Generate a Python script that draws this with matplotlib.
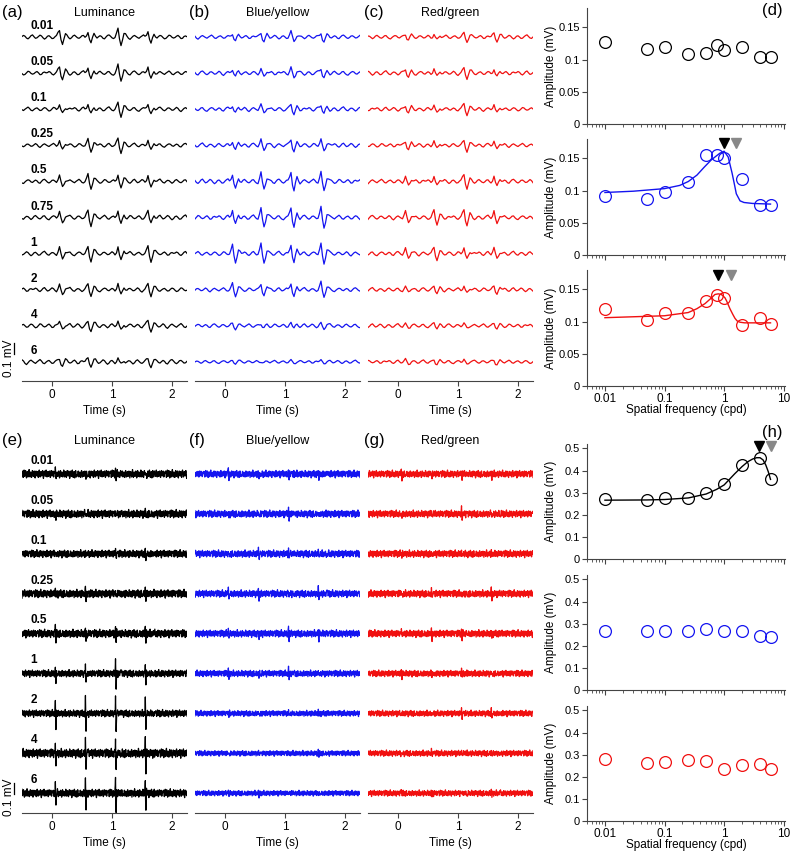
import numpy as np
import matplotlib
matplotlib.use('Agg')
import matplotlib.pyplot as plt
from matplotlib.ticker import LogLocator, NullFormatter

plt.rcParams.update({
    'font.family': ['Liberation Sans', 'DejaVu Sans'],
    'font.size': 8.5,
    'axes.linewidth': 0.8,
    'xtick.major.size': 3.5,
    'ytick.major.size': 3.5,
    'xtick.minor.size': 2,
    'xtick.major.width': 0.8,
    'ytick.major.width': 0.8,
    'xtick.minor.width': 0.6,
})

# ---- data -------------------------------------------------------------
sf_top = [0.01, 0.05, 0.1, 0.25, 0.5, 0.75, 1, 2, 4, 6]
sf_bottom = [0.01, 0.05, 0.1, 0.25, 0.5, 1, 2, 4, 6]
labels_top = ['0.01', '0.05', '0.1', '0.25', '0.5', '0.75', '1', '2', '4', '6']
labels_bottom = ['0.01', '0.05', '0.1', '0.25', '0.5', '1', '2', '4', '6']

# (d) amplitudes (mV)
d_lum = [0.128, 0.117, 0.119, 0.108, 0.110, 0.122, 0.115, 0.119, 0.104, 0.104]
d_by = [0.091, 0.087, 0.098, 0.114, 0.155, 0.155, 0.150, 0.118, 0.078, 0.078]
d_rg = [0.120, 0.103, 0.114, 0.114, 0.132, 0.141, 0.137, 0.094, 0.106, 0.096]
d_by_fit_x = [0.01, 0.03, 0.1, 0.18, 0.25, 0.35, 0.46, 0.6, 0.7, 0.85, 1.0, 1.17, 1.36, 1.5, 1.6, 1.85, 2.15, 3, 6]
d_by_fit_y = [0.097, 0.099, 0.103, 0.108, 0.114, 0.124, 0.136, 0.147, 0.152, 0.158, 0.161, 0.152, 0.127, 0.108, 0.095, 0.084, 0.0815, 0.080, 0.079]
d_rg_fit_x = [0.01, 0.1, 0.25, 0.35, 0.48, 0.6, 0.7, 0.8, 0.9, 1.03, 1.1, 1.25, 1.4, 1.52, 1.65, 1.84, 2.2, 6]
d_rg_fit_y = [0.106, 0.109, 0.114, 0.120, 0.128, 0.136, 0.142, 0.143, 0.142, 0.137, 0.132, 0.120, 0.111, 0.105, 0.101, 0.099, 0.098, 0.098]

# (h) amplitudes (mV)
h_lum = [0.270, 0.265, 0.274, 0.275, 0.297, 0.337, 0.426, 0.458, 0.360]
h_by = [0.269, 0.265, 0.269, 0.265, 0.278, 0.269, 0.267, 0.242, 0.238]
h_rg = [0.282, 0.264, 0.268, 0.275, 0.270, 0.236, 0.255, 0.259, 0.237]
h_lum_fit_x = [0.01, 0.05, 0.1, 0.25, 0.5, 0.75, 1, 1.5, 2, 2.5, 3, 3.5, 4, 4.5, 5, 5.5, 6]
h_lum_fit_y = [0.266, 0.267, 0.269, 0.276, 0.294, 0.315, 0.335, 0.385, 0.418, 0.440, 0.452, 0.458, 0.458, 0.448, 0.425, 0.395, 0.360]

# peak markers (cpd): black / grey
d_by_peaks = [1.0, 1.6]
d_rg_peaks = [0.8, 1.3]
h_lum_peaks = [3.9, 6.0]

# trace background shape (read off as a rough sketch of the wiggles)
wiggle = [0.2, 0.6, 0.3, -0.4, -0.7, -0.2, 0.5, 0.8, 0.1, -0.5, -0.3, 0.2, 0.7, 0.4,
          -0.3, -0.8, -0.4, 0.3, 0.5, 0.0, -0.6, -0.5, 0.1, 0.6, 0.9, 0.2, -0.4, -0.6,
          0.0, 0.4, 0.3, -0.2, -0.7, -0.3, 0.4, 0.7, 0.2, -0.3, -0.5, -0.1, 0.5, 0.6,
          -0.1, -0.6, -0.8, -0.2, 0.3, 0.6, 0.4, -0.2, -0.4, 0.1, 0.5, 0.2, -0.5, -0.7,
          0.0, 0.6, 0.8, 0.3, -0.3, -0.6, -0.2, 0.4, 0.5, 0.1, -0.4, -0.3, 0.2, 0.7,
          0.3, -0.5, -0.9, -0.3, 0.3, 0.6, 0.2, -0.2, -0.5, 0.0, 0.4, 0.8, 0.3, -0.4,
          -0.6, -0.1, 0.3, 0.5, 0.0, -0.5, -0.4, 0.2, 0.6, 0.4, -0.2, -0.7, -0.5, 0.1,
          0.7, 0.5, -0.1, -0.4, -0.2, 0.3, 0.6, 0.1, -0.6, -0.5, 0.2, 0.4, 0.1]
evoked_slow = [0.4, 1.0, -0.3, -1.0, -0.3, 0.4, 0.2]
evoked_fast = [0.2, 0.9, -0.3, -1.0, -0.4, 0.1]
event_times_top = [0.08, 0.57, 1.07, 1.57]
event_times_bottom = [0.05, 0.55, 1.05, 1.55]
event_weights = [0.9, 1.0, 1.15, 1.05]

# per-row evoked amplitude / background amplitude (mV)
top_evoked = {
    'lum': [0.06, 0.06, 0.05, 0.05, 0.06, 0.06, 0.06, 0.05, 0.04, 0.03],
    'by': [0.04, 0.04, 0.04, 0.05, 0.08, 0.08, 0.08, 0.06, 0.02, 0.01],
    'rg': [0.03, 0.04, 0.04, 0.04, 0.05, 0.06, 0.05, 0.03, 0.02, 0.02],
}
top_noise = {
    'lum': [0.024, 0.024, 0.024, 0.022, 0.024, 0.026, 0.024, 0.024, 0.026, 0.027],
    'by': [0.022, 0.024, 0.024, 0.024, 0.026, 0.026, 0.024, 0.022, 0.022, 0.018],
    'rg': [0.022, 0.024, 0.022, 0.022, 0.024, 0.024, 0.024, 0.022, 0.022, 0.020],
}
bottom_evoked = {
    'lum': [0.03, 0.035, 0.035, 0.045, 0.07, 0.11, 0.15, 0.15, 0.13],
    'by': [0.04, 0.04, 0.04, 0.04, 0.05, 0.04, 0.03, 0.02, 0.02],
    'rg': [0.04, 0.04, 0.04, 0.04, 0.04, 0.03, 0.03, 0.02, 0.02],
}
bottom_noise = {
    'lum': [0.045, 0.045, 0.042, 0.045, 0.045, 0.040, 0.040, 0.050, 0.045],
    'by': [0.040, 0.040, 0.040, 0.040, 0.040, 0.036, 0.032, 0.030, 0.030],
    'rg': [0.040, 0.040, 0.040, 0.040, 0.040, 0.036, 0.034, 0.034, 0.034],
}

BLACK, BLUE, RED, GREY = '#000000', '#1414f0', '#f01010', '#888888'
SPINE = '#444444'
W, H = 790, 851
PX_PER_MV = 110.0


def px_axes(fig, x0, y0, x1, y1):
    return fig.add_axes([x0 / W, 1 - y1 / H, (x1 - x0) / W, (y1 - y0) / H])


def make_trace(row, col, noise, evoked, dense, times):
    base = np.array(wiggle)
    if dense:
        parts = []
        for k in range(5):
            p = np.roll(base, 13 * row + 29 * col + 37 * k)
            parts.append(p if k % 2 == 0 else -p[::-1])
        base = np.concatenate(parts)
        kernel = np.array(evoked_fast)
    else:
        base = np.roll(base, 17 * row + 41 * col)
        kernel = np.array(evoked_slow)
    t = np.linspace(-0.5, 2.25, len(base))
    y = noise * base
    for et, w in zip(times, event_weights):
        i = np.searchsorted(t, et)
        y[i:i + len(kernel)] += evoked * w * kernel[:len(y) - i]
    return t, y


def trace_panel(ax, key, col, labels, noise, evoked, dense, color, spacing, top_px, first_px, bot_px):
    times = event_times_bottom if dense else event_times_top
    for i, lab in enumerate(labels):
        t, y = make_trace(i, col, noise[key][i], evoked[key][i], dense, times)
        ax.plot(t, y - i * spacing, color=color, lw=0.9)
        if col == 0:
            ax.text(-0.36, -i * spacing + (0.12 if dense else 0.10), lab,
                    fontsize=8.5, fontweight='bold', va='center', ha='left')
    ax.set_xlim(-0.5, 2.25)
    ax.set_ylim(-(bot_px - first_px) / PX_PER_MV, (first_px - top_px) / PX_PER_MV)
    for s in ['left', 'top', 'right']:
        ax.spines[s].set_visible(False)
    ax.spines['bottom'].set_color(SPINE)
    ax.set_yticks([])
    ax.set_xticks([0, 1, 2])
    ax.tick_params(axis='x', colors=SPINE, labelcolor='black', pad=2)
    ax.set_xlabel('Time (s)', fontsize=8.5, labelpad=3)


def sf_panel(ax, sf, amps, color, ymax, yticks, ylabels, fit=None, peaks=None, peak_y=None, bottom=False):
    ax.set_xscale('log')
    ax.set_xlim(0.005, 10.5)
    ax.set_ylim(0, ymax)
    if fit is not None:
        ax.plot(fit[0], fit[1], color=color, lw=1.0)
    ax.plot(sf, amps, 'o', mfc='none', mec=color, ms=8.5, mew=0.9)
    if peaks is not None:
        ax.plot([peaks[0]], [peak_y], 'v', color=BLACK, ms=7, clip_on=False)
        ax.plot([peaks[1]], [peak_y], 'v', color=GREY, ms=7, clip_on=False)
    for s in ['top', 'right']:
        ax.spines[s].set_visible(False)
    for s in ['left', 'bottom']:
        ax.spines[s].set_color(SPINE)
    ax.set_xticks([0.01, 0.1, 1, 10])
    ax.xaxis.set_minor_locator(LogLocator(base=10, subs=np.arange(2, 10)))
    ax.xaxis.set_minor_formatter(NullFormatter())
    if bottom:
        ax.set_xticklabels(['0.01', '0.1', '1', '10'])
        ax.set_xlabel('Spatial frequency (cpd)', fontsize=8.5, labelpad=-0.5)
    else:
        ax.set_xticklabels([])
    ax.set_yticks(yticks)
    ax.set_yticklabels(ylabels)
    ax.tick_params(which='both', colors=SPINE, labelcolor='black', pad=1.5)
    ax.tick_params(axis='y', labelsize=8)
    ax.set_ylabel('Amplitude (mV)', fontsize=8.5)
    ax.yaxis.set_label_coords(-0.15, 0.5)


fig = plt.figure(figsize=(W / 100, H / 100), dpi=100)

col_x = [(22, 187), (195, 360), (368, 533)]
keys = ['lum', 'by', 'rg']
colors = [BLACK, BLUE, RED]

# top half traces
for c, (x0, x1) in enumerate(col_x):
    ax = px_axes(fig, x0, 15, x1, 381)
    trace_panel(ax, keys[c], c, labels_top, top_noise, top_evoked, False, colors[c],
                36.1 / PX_PER_MV, 15, 37, 381)
    if c == 0:
        ax.plot([-0.64, -0.64], [-(343 - 37) / PX_PER_MV, -(354 - 37) / PX_PER_MV],
                color=BLACK, lw=0.9, clip_on=False)
        ax.text(-0.725, -(358 - 37) / PX_PER_MV, '0.1 mV', rotation=90,
                ha='center', va='center', fontsize=8.5)

# bottom half traces
for c, (x0, x1) in enumerate(col_x):
    ax = px_axes(fig, x0, 455, x1, 813)
    trace_panel(ax, keys[c], c, labels_bottom, bottom_noise, bottom_evoked, True, colors[c],
                39.9 / PX_PER_MV, 455, 474, 813)
    if c == 0:
        ax.plot([-0.64, -0.64], [-(783 - 474) / PX_PER_MV, -(794 - 474) / PX_PER_MV],
                color=BLACK, lw=0.9, clip_on=False)
        ax.text(-0.725, -(797 - 474) / PX_PER_MV, '0.1 mV', rotation=90,
                ha='center', va='center', fontsize=8.5)

# (d) panels
d_ticks = [0, 0.05, 0.1, 0.15]
d_labels = ['0', '0.05', '0.1', '0.15']
ax = px_axes(fig, 587, 8, 785, 124)
sf_panel(ax, sf_top, d_lum, BLACK, 0.18, d_ticks, d_labels)
ax = px_axes(fig, 587, 139, 785, 255)
sf_panel(ax, sf_top, d_by, BLUE, 0.18, d_ticks, d_labels,
         fit=(d_by_fit_x, d_by_fit_y), peaks=d_by_peaks, peak_y=0.174)
ax = px_axes(fig, 587, 270, 785, 386)
sf_panel(ax, sf_top, d_rg, RED, 0.18, d_ticks, d_labels,
         fit=(d_rg_fit_x, d_rg_fit_y), peaks=d_rg_peaks, peak_y=0.172, bottom=True)

# (h) panels
h_ticks = [0, 0.1, 0.2, 0.3, 0.4, 0.5]
h_labels = ['0', '0.1', '0.2', '0.3', '0.4', '0.5']
ax = px_axes(fig, 587, 444, 785, 559)
sf_panel(ax, sf_bottom, h_lum, BLACK, 0.52, h_ticks, h_labels,
         fit=(h_lum_fit_x, h_lum_fit_y), peaks=h_lum_peaks, peak_y=0.51)
ax = px_axes(fig, 587, 575, 785, 690)
sf_panel(ax, sf_bottom, h_by, BLUE, 0.52, h_ticks, h_labels)
ax = px_axes(fig, 587, 706, 785, 821)
sf_panel(ax, sf_bottom, h_rg, RED, 0.52, h_ticks, h_labels, bottom=True)

# panel letters and column titles
titles = ['Luminance', 'Blue/yellow', 'Red/green']
for y, yd, letters in [(13, 11, ['(a)', '(b)', '(c)', '(d)']), (441, 432, ['(e)', '(f)', '(g)', '(h)'])]:
    for lx, letter in zip([2, 189, 364, 762], letters):
        yy = yd if letter in ('(d)', '(h)') else y
        fig.text(lx / W, 1 - yy / H, letter, fontsize=12, ha='left', va='center')
    for (x0, x1), title in zip(col_x, titles):
        fig.text((x0 + x1) / 2 / W, 1 - y / H, title, fontsize=9, ha='center', va='center')

fig.savefig('out.png', dpi=100)
